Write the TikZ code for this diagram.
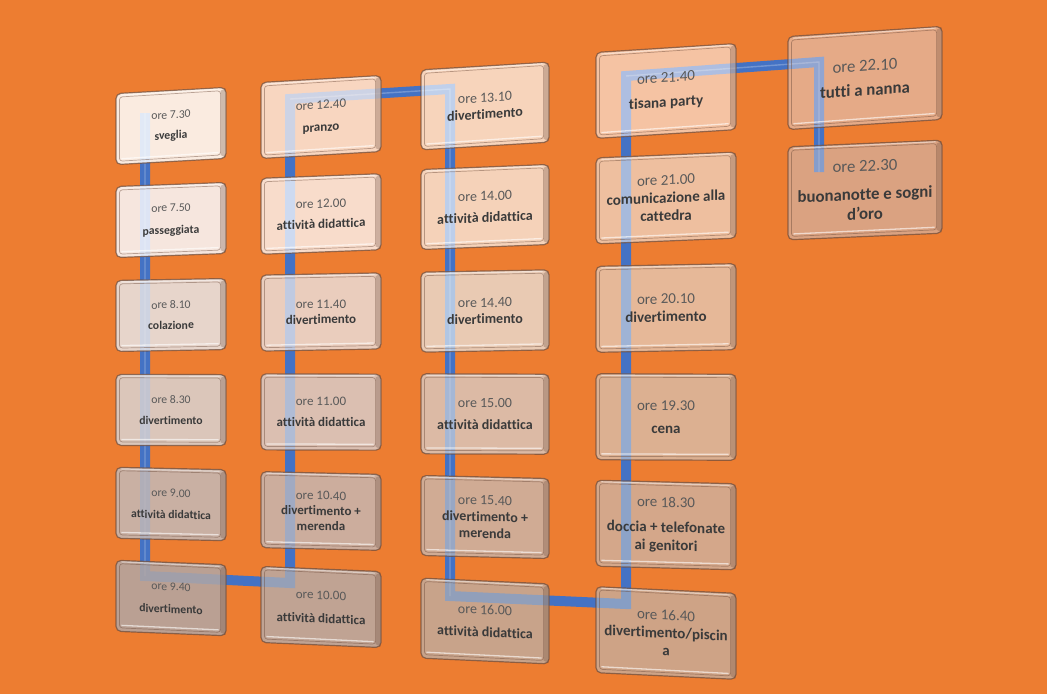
\documentclass[tikz,border=0pt]{standalone}
\usepackage{fontspec}
\setmainfont{Carlito}[Ligatures=NoCommon]
\usetikzlibrary{calc}
\definecolor{bg}{HTML}{ED7D31}
\definecolor{pipe}{HTML}{4472C4}
\definecolor{tcol}{HTML}{595959}
\definecolor{acol}{HTML}{3A3A3A}
\definecolor{rimdk}{HTML}{6B4A3A}
\tikzset{
  tbox/.style={rectangle, rounded corners=5pt, fill=#1, draw=rimdk,
    draw opacity=.7, line width=1.2pt, text opacity=1,
    align=center, inner sep=0pt, text=acol},
  colA/.style={minimum width=110pt, minimum height=71pt, font=\fontsize{11.7}{13.6}\selectfont},
  colB/.style={minimum width=120pt, minimum height=76pt, font=\fontsize{13}{15.4}\selectfont},
  colC/.style={minimum width=128pt, minimum height=80pt, font=\fontsize{14}{16.6}\selectfont},
  colD/.style={minimum width=140pt, minimum height=86pt, font=\fontsize{15}{18}\selectfont},
  colE/.style={minimum width=154pt, minimum height=93pt, font=\fontsize{16.8}{19.6}\selectfont},
  rimin/.style={draw=rimdk, draw opacity=.45, line width=.7pt, rounded corners=3pt},
  rimshade/.style={fill=rimdk, fill opacity=.3},
  rimhi/.style={draw=white, draw opacity=.6, line width=1.3pt},
  rimtop/.style={draw=white, draw opacity=.45, line width=1.2pt},
  pipeunder/.style={line width=10pt, draw=pipe, line join=miter},
  pipehi/.style={line width=1.4pt, draw=white, draw opacity=.25, line join=miter},
}
\newcommand\ora[1]{{\color{tcol}ore #1}}
\newcommand\bx[6]{%
  \node[tbox=#1c, fill opacity=#5, #2, yslant={(400-#4)/4900}] (#1) at (#3,#4) {#6};
  \fill[rimshade] ($(#1.north east)+(-6,4)$) -- ($(#1.north east)+(-1,1.5)$) -- ($(#1.south east)+(-1,-1.5)$) -- ($(#1.south east)+(-6,-4)$) -- cycle;
  \draw[rimin] ($(#1.north west)+(4,4)$) -- ($(#1.north east)+(-6,4)$) -- ($(#1.south east)+(-6,-4)$) -- ($(#1.south west)+(4,-4)$) -- cycle;
  \draw[rimhi] ($(#1.south west)+(6,-6.5)$) -- ($(#1.south east)+(-8,-6.5)$);
  \draw[rimtop] ($(#1.north west)+(6,2.2)$) -- ($(#1.north east)+(-7,2.2)$);
}
\begin{document}
\begin{tikzpicture}[x=1pt,y=-1pt]
\fill[bg] (0,0) rectangle (1047,694);
\useasboundingbox (0,0) rectangle (1047,694);
% pipe coordinates
\coordinate (p0) at (145,113);
\coordinate (p1) at (145,576);
\coordinate (p2) at (290,583);
\coordinate (p3) at (290,99);
\coordinate (p4) at (450,89);
\coordinate (p5) at (450,596);
\coordinate (p6) at (626,604);
\coordinate (p7) at (626,76);
\coordinate (p8) at (819,62);
\coordinate (p9) at (819,172);
\draw[pipeunder] (p0) -- (p1) -- (p2) -- (p3) -- (p4) -- (p5) -- (p6) -- (p7) -- (p8) -- (p9);
\begin{scope}[xshift=-3pt]
\draw[pipehi] (p0) -- (p1) (p3) -- (p4) -- (p5) (p7) -- (p8) -- (p9);
\end{scope}
% box base colours (shown at partial opacity over the background)
\definecolor{a1c}{RGB}{253,255,255}\definecolor{a2c}{RGB}{248,249,253}\definecolor{a3c}{RGB}{231,229,231}
\definecolor{a4c}{RGB}{217,211,211}\definecolor{a5c}{RGB}{195,185,183}\definecolor{a6c}{RGB}{178,167,165}
\definecolor{b1c}{RGB}{252,244,241}\definecolor{b2c}{RGB}{253,253,255}\definecolor{b3c}{RGB}{234,232,236}
\definecolor{b4c}{RGB}{213,214,220}\definecolor{b5c}{RGB}{193,190,194}\definecolor{b6c}{RGB}{177,176,180}
\definecolor{c1c}{RGB}{253,255,255}\definecolor{c2c}{RGB}{249,252,253}\definecolor{c3c}{RGB}{232,240,243}
\definecolor{c4c}{RGB}{213,217,222}\definecolor{c5c}{RGB}{194,194,197}\definecolor{c6c}{RGB}{183,182,182}
\definecolor{d1c}{RGB}{251,246,246}\definecolor{d2c}{RGB}{239,239,239}\definecolor{d3c}{RGB}{225,227,227}
\definecolor{d4c}{RGB}{209,213,216}\definecolor{d5c}{RGB}{194,199,204}\definecolor{d6c}{RGB}{184,191,196}
\definecolor{e1c}{RGB}{222,216,222}\definecolor{e2c}{RGB}{200,200,210}
% column 1
\bx{a1}{colA}{171}{126}{.85}{\ora{7.30}\\[7pt]\textbf{sveglia}}
\bx{a2}{colA}{171}{220}{.85}{\ora{7.50}\\[9pt]\textbf{passeggiata}}
\bx{a3}{colA}{171}{315}{.85}{\ora{8.10}\\[7pt]\textbf{colazione}}
\bx{a4}{colA}{171}{410}{.85}{\ora{8.30}\\[8pt]\textbf{divertimento}}
\bx{a5}{colA}{171}{504}{.85}{\ora{9.00}\\[8pt]\textbf{attività didattica}}
\bx{a6}{colA}{171}{598}{.85}{\ora{9.40}\\[9pt]\textbf{divertimento}}
% column 2
\bx{b1}{colB}{321}{117}{.75}{\ora{12.40}\\[7pt]\textbf{pranzo}}
\bx{b2}{colB}{321}{214}{.75}{\ora{12.00}\\[5pt]\textbf{attività didattica}}
\bx{b3}{colB}{321}{312}{.75}{\ora{11.40}\\\textbf{divertimento}}
\bx{b4}{colB}{321}{412}{.75}{\ora{11.00}\\[6pt]\textbf{attività didattica}}
\bx{b5}{colB}{321}{511}{.75}{\ora{10.40}\\\textbf{divertimento +}\\\textbf{merenda}}
\bx{b6}{colB}{321}{607}{.75}{\ora{10.00}\\[8pt]\textbf{attività didattica}}
% column 3
\bx{c1}{colC}{485}{106}{.67}{\ora{13.10}\\\textbf{divertimento}}
\bx{c2}{colC}{485}{207}{.67}{\ora{14.00}\\[5pt]\textbf{attività didattica}}
\bx{c3}{colC}{485}{311}{.67}{\ora{14.40}\\\textbf{divertimento}}
\bx{c4}{colC}{485}{414}{.67}{\ora{15.00}\\[5pt]\textbf{attività didattica}}
\bx{c5}{colC}{485}{517}{.67}{\ora{15.40}\\\textbf{divertimento +}\\\textbf{merenda}}
\bx{c6}{colC}{485}{621}{.67}{\ora{16.00}\\[6pt]\textbf{attività didattica}}
% column 4
\bx{d1}{colD}{666}{91}{.58}{\ora{21.40}\\[7pt]\textbf{tisana party}}
\bx{d2}{colD}{666}{198}{.58}{\ora{21.00}\\\textbf{comunicazione alla}\\\textbf{cattedra}}
\bx{d3}{colD}{666}{308}{.58}{\ora{20.10}\\\textbf{divertimento}}
\bx{d4}{colD}{666}{417}{.58}{\ora{19.30}\\[5pt]\textbf{cena}}
\bx{d5}{colD}{666}{525}{.58}{\ora{18.30}\\[7pt]\textbf{doccia + telefonate}\\\textbf{ai genitori}}
\bx{d6}{colD}{666}{633}{.58}{\ora{16.40}\\\textbf{divertimento/piscin}\\\textbf{a}}
% column 5
\bx{e1}{colE}{865}{78}{.5}{\ora{22.10}\\[5pt]\textbf{tutti a nanna}}
\bx{e2}{colE}{865}{190}{.5}{\ora{22.30}\\[9pt]\textbf{buonanotte e sogni}\\\textbf{d\char"0027oro}}
\end{tikzpicture}
\end{document}
